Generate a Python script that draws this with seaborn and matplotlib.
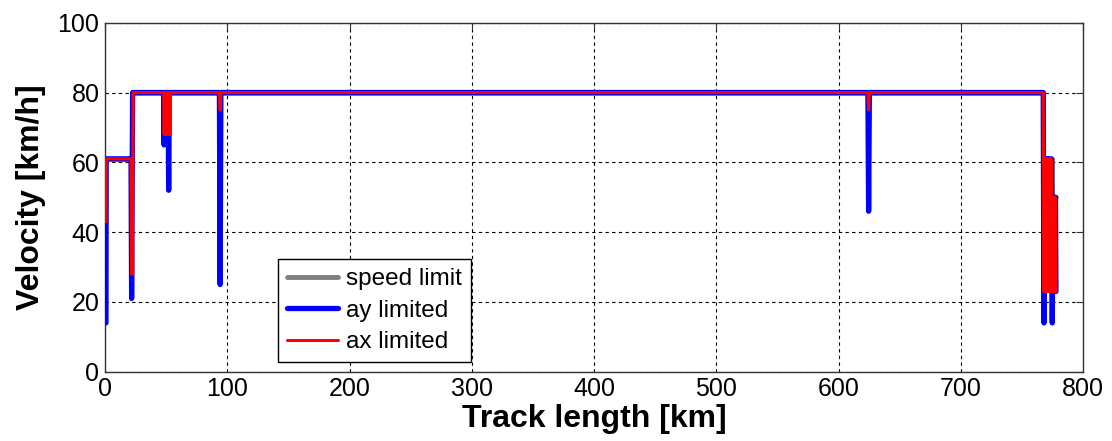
import matplotlib
matplotlib.use("Agg")
import matplotlib.pyplot as plt
import seaborn as sns
import pandas as pd

# Speed limit along the track (km, km/h)
limit_km = [0.0, 22.0, 22.0, 767.6, 767.6, 774.6, 774.6, 778.0]
limit_v = [61, 61, 80, 80, 61, 61, 50, 50]

# Velocity profile limited by lateral acceleration
ay_km = [0.8, 1.0, 21.3, 21.8, 22.6, 48.0, 48.3, 48.7, 51.6, 52.1, 52.6,
         93.6, 94.2, 94.8, 624.0, 624.6, 625.2, 767.4, 768.0, 768.6, 770.8,
         771.2, 771.6, 774.2, 774.8, 775.4, 777.4, 777.8]
ay_v = [14, 61, 61, 21, 80, 80, 65, 80, 80, 52, 80,
        80, 25, 80, 80, 46, 80, 80, 14, 61, 61,
        47, 61, 61, 14, 50, 50, 23]

# Velocity profile limited by longitudinal acceleration
ax_km = [0.8, 1.0, 21.3, 21.8, 22.2, 22.6, 23.0, 23.4, 48.0, 48.4, 48.8,
         49.2, 49.6, 50.0, 50.4, 50.8, 51.2, 51.6, 52.0, 52.4, 52.8, 53.2,
         53.6, 54.0, 93.6, 94.2, 94.8, 624.0, 624.6, 625.2, 767.4, 768.0,
         768.4, 768.8, 769.2, 769.6, 770.0, 770.4, 770.8, 771.2, 771.6,
         772.0, 772.4, 772.8, 773.2, 773.6, 774.0, 774.4, 774.8, 775.2,
         775.6, 776.0, 776.4, 776.8, 777.2, 777.8]
ax_v = [43, 61, 61, 28, 61, 28, 80, 80, 80, 68, 80,
        68, 80, 68, 80, 68, 80, 68, 80, 68, 80, 68,
        80, 80, 80, 75, 80, 80, 75, 80, 80, 23,
        61, 23, 61, 23, 61, 23, 61, 23, 61,
        23, 61, 23, 61, 23, 61, 23, 50, 23,
        50, 23, 50, 23, 50, 23]

x_ticks = [0, 100, 200, 300, 400, 500, 600, 700, 800]
y_ticks = [0, 20, 40, 60, 80, 100]

sns.set_style("white")
plt.rcParams["font.family"] = ["Liberation Sans", "DejaVu Sans"]
plt.rcParams.update({"text.color": "black", "axes.labelcolor": "black",
                     "xtick.color": "black", "ytick.color": "black"})

fig = plt.figure(figsize=(11.12, 4.41), dpi=100)
ax = fig.add_axes([0.0944, 0.157, 0.8796, 0.7915])

limit_df = pd.DataFrame({"km": limit_km, "v": limit_v})
ay_df = pd.DataFrame({"km": ay_km, "v": ay_v})
ax_df = pd.DataFrame({"km": ax_km, "v": ax_v})

sns.lineplot(data=limit_df, x="km", y="v", ax=ax, sort=False, estimator=None,
             color="#808080", linewidth=3.5, label="speed limit", zorder=3)
sns.lineplot(data=ay_df, x="km", y="v", ax=ax, sort=False, estimator=None,
             color="#0000ff", linewidth=3.8, label="ay limited", zorder=4)
sns.lineplot(data=ax_df, x="km", y="v", ax=ax, sort=False, estimator=None,
             color="#ff0000", linewidth=2.2, label="ax limited", zorder=5)

ax.set_xlim(0, 800)
ax.set_ylim(0, 100)
ax.set_xticks(x_ticks)
ax.set_yticks(y_ticks)
ax.tick_params(axis="both", direction="in", length=5, width=0.8,
               labelsize=18, top=True, right=True, pad=4,
               color="#333333", labelcolor="black")
ax.grid(True, color="black", linestyle=(0, (3, 3)), linewidth=0.8)
ax.set_axisbelow(True)
for s in ax.spines.values():
    s.set_color("#333333")
    s.set_linewidth(1.0)

ax.set_xlabel("Track length [km]", fontsize=23, fontweight="bold", labelpad=2)
ax.set_ylabel("Velocity [km/h]", fontsize=23, fontweight="bold", labelpad=8)

leg = ax.legend(loc="lower left", bbox_to_anchor=(0.177, 0.028), fontsize=17.5,
                frameon=True, fancybox=False, edgecolor="black", framealpha=1,
                borderaxespad=0, borderpad=0.35, labelspacing=0.4,
                handlelength=2.1, handletextpad=0.35)
leg.get_frame().set_linewidth(1.0)
for t in leg.get_texts():
    t.set_color("black")

fig.savefig("out.png", dpi=100)
